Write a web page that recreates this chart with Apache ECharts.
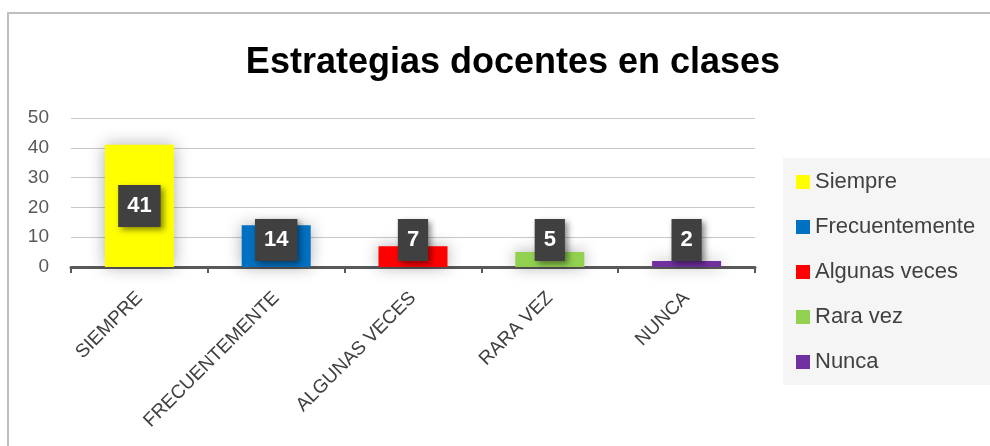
<!DOCTYPE html>
<html>
<head>
<meta charset="utf-8">
<script src="https://cdn.jsdelivr.net/npm/echarts@6/dist/echarts.min.js"></script>
<style>
html,body{margin:0;padding:0;background:#fff;}
#chart{width:990px;height:446px;}
</style>
</head>
<body>
<div id="chart"></div>
<script>
var titleText = 'Estrategias docentes en clases';
var categories = ['SIEMPRE', 'FRECUENTEMENTE', 'ALGUNAS VECES', 'RARA VEZ', 'NUNCA'];
var seriesNames = ['Siempre', 'Frecuentemente', 'Algunas veces', 'Rara vez', 'Nunca'];
var values = [41, 14, 7, 5, 2];
var colors = ['#FFFF00', '#0070C0', '#FF0000', '#92D050', '#7030A0'];
var yTicks = { min: 0, max: 50, interval: 10 };

var FONT = '"Liberation Sans", Arial, sans-serif';

var series = seriesNames.map(function (name, i) {
  var data = categories.map(function (c, j) {
    if (j !== i) return '-';
    return {
      value: values[j],
      label: j === 0 ? { position: 'inside' } : { position: 'insideBottom', distance: 6 }
    };
  });
  return {
    name: name,
    type: 'bar',
    stack: 'all',
    barWidth: 69,
    data: data,
    itemStyle: {
      color: colors[i],
      shadowBlur: 16,
      shadowColor: 'rgba(0,0,0,0.32)'
    },
    label: {
      show: true,
      color: '#ffffff',
      fontFamily: FONT,
      fontWeight: 'bold',
      fontSize: 22,
      lineHeight: 24,
      backgroundColor: '#404040',
      padding: [9, 9, 9, 9],
      shadowBlur: 6,
      shadowColor: 'rgba(0,0,0,0.45)',
      shadowOffsetX: 3,
      shadowOffsetY: 3
    }
  };
});

var chart = echarts.init(document.getElementById('chart'), null, { renderer: 'canvas' });
chart.setOption({
  animation: false,
  backgroundColor: '#ffffff',
  graphic: [
    {
      type: 'rect',
      shape: { x: 8, y: 13, width: 1000, height: 460 },
      style: { fill: 'none', stroke: '#bfbfbf', lineWidth: 2 },
      z: 0
    },
    {
      type: 'rect',
      shape: { x: 783, y: 158, width: 220, height: 227 },
      style: { fill: '#f5f5f5' },
      z: 0
    }
  ],
  title: {
    text: titleText,
    left: 508,
    top: 40,
    textAlign: 'center',
    textStyle: { fontFamily: FONT, fontWeight: 'bold', fontSize: 36, color: '#000000' }
  },
  legend: {
    orient: 'vertical',
    left: 796,
    top: 171,
    padding: 0,
    itemGap: 23,
    itemWidth: 14,
    itemHeight: 14,
    icon: 'rect',
    data: seriesNames,
    textStyle: { fontFamily: FONT, fontSize: 22, color: '#404040', lineHeight: 22 }
  },
  grid: { left: 71, right: 235, top: 118, bottom: 179 },
  xAxis: {
    type: 'category',
    data: categories,
    boundaryGap: true,
    axisLine: { show: true, lineStyle: { color: '#595959', width: 3 } },
    axisTick: { show: true, length: 6, lineStyle: { color: '#595959', width: 2 } },
    axisLabel: {
      rotate: 45,
      interval: 0,
      margin: 28,
      fontFamily: FONT,
      fontSize: 19,
      color: '#404040'
    }
  },
  yAxis: {
    type: 'value',
    min: yTicks.min,
    max: yTicks.max,
    interval: yTicks.interval,
    axisLine: { show: false },
    axisTick: { show: false },
    splitLine: { lineStyle: { color: '#c8c8c8', width: 1 } },
    axisLabel: { margin: 22, fontFamily: FONT, fontSize: 19, color: '#595959' }
  },
  series: series
});
</script>
</body>
</html>
